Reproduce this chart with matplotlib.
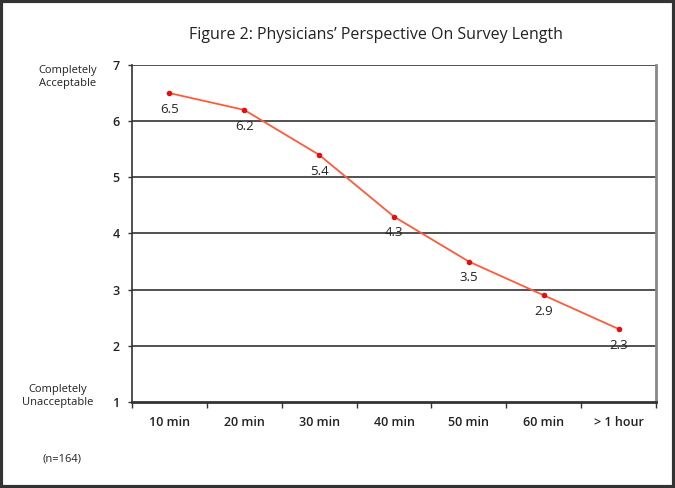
import matplotlib
matplotlib.use("Agg")
import matplotlib.pyplot as plt
from matplotlib.patches import Rectangle
import numpy as np

categories = ["10 min", "20 min", "30 min", "40 min", "50 min", "60 min", "> 1 hour"]
values = [6.5, 6.2, 5.4, 4.3, 3.5, 2.9, 2.3]
yticks = [1, 2, 3, 4, 5, 6, 7]

plt.rcParams['font.family'] = ['Open Sans', 'DejaVu Sans']

fig = plt.figure(figsize=(6.75, 4.88), dpi=100)
ax = fig.add_axes([132/675, 1-402/488, (656-132)/675, (402-65)/488])

x = np.arange(len(categories))
ax.plot(x, values, color='#ff5a3c', lw=1.3, zorder=3)
ax.plot(x, values, 'o', color='#e01010', ms=3, zorder=4)
for xi, v in zip(x, values):
    ax.annotate(f"{v}", (xi, v), xytext=(0, -7), textcoords='offset points',
                ha='center', va='top', fontsize=9.5, color='#222222')

ax.set_xlim(-0.5, len(categories) - 0.5)
ax.set_ylim(1, 7)
ax.set_yticks(yticks)
ax.set_yticklabels([str(t) for t in yticks], fontsize=9, fontweight='semibold', color='#222222')
for t in yticks[1:]:
    ax.axhline(t, color='#333333', lw=1.2, zorder=1)

ax.set_xticks(np.arange(-0.5, len(categories), 1.0))
ax.set_xticklabels([])
ax.set_xticks(x, minor=True)
ax.set_xticklabels(categories, minor=True, fontsize=9, fontweight='semibold', color='#222222')
ax.tick_params(axis='x', which='major', length=4, width=1, color='#333333', direction='out')
ax.tick_params(axis='x', which='minor', length=0, pad=10)
ax.tick_params(axis='y', length=3, width=1, color='#333333', pad=6)

ax.spines['left'].set_color('#333333')
ax.spines['left'].set_linewidth(1.2)
ax.spines['bottom'].set_color('#333333')
ax.spines['bottom'].set_linewidth(2)
ax.spines['top'].set_visible(False)
ax.spines['right'].set_color('#888888')
ax.spines['right'].set_linewidth(2)

fig.text(376/675, 1-35/488, "Figure 2: Physicians\u2019 Perspective On Survey Length",
         ha='center', va='center', fontsize=11.5, color='#222222')
fig.text(68/675, 1-77/488, "Completely\nAcceptable", ha='center', va='center',
         fontsize=8, color='#222222', linespacing=1.3)
fig.text(58/675, 1-396/488, "Completely\nUnacceptable", ha='center', va='center',
         fontsize=8, color='#222222', linespacing=1.3)
fig.text(62/675, 1-459/488, "(n=164)", ha='center', va='center', fontsize=8, color='#222222')

fig.patches.append(Rectangle((0.002, 0.003), 0.996, 0.994, transform=fig.transFigure,
                             fill=False, edgecolor='#333333', lw=3))

fig.savefig("out.png", dpi=100)
